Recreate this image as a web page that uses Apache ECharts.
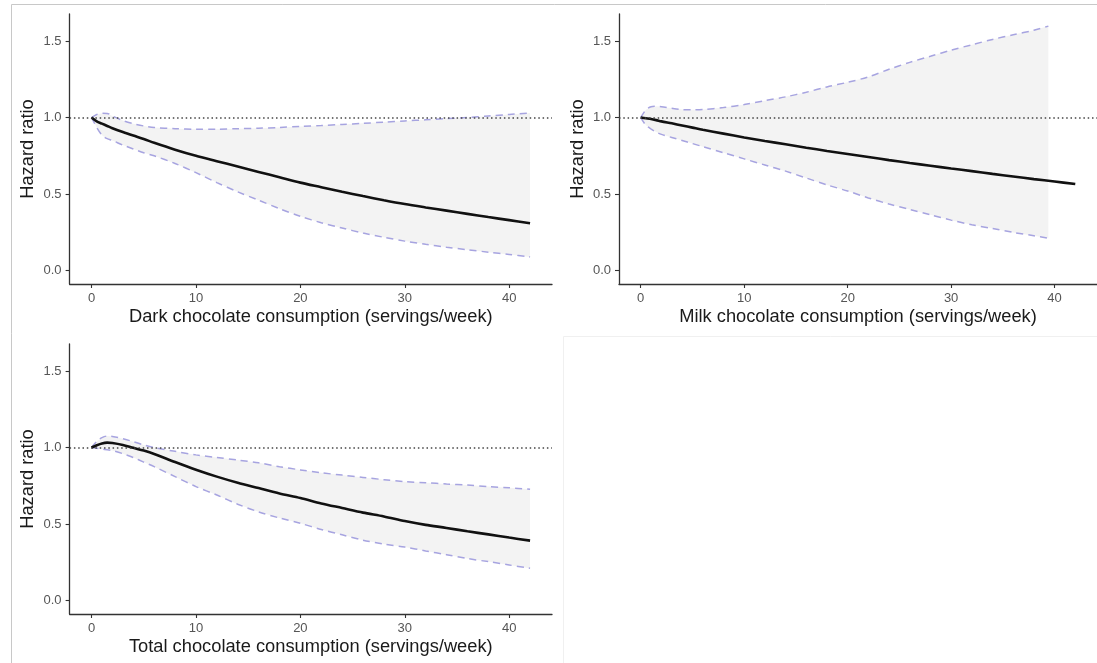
<!DOCTYPE html>
<html>
<head>
<meta charset="utf-8">
<script src="https://cdn.jsdelivr.net/npm/echarts@6/dist/echarts.min.js"></script>
<style>
  html, body { margin: 0; padding: 0; background: #fff; }
  #chart { width: 1097px; height: 663px; }
</style>
</head>
<body>
<div id="chart"></div>
<script>
// servings/week at which the curves were read
const xPts = [0, 0.5, 1, 1.5, 2, 3, 4, 5, 6, 8, 10, 12, 14, 16, 18, 20, 22, 24, 26, 28, 30, 32, 34, 36, 38, 40, 42]

// dark chocolate
const darkHR = [1.0, 0.975, 0.96, 0.945, 0.93, 0.905, 0.882, 0.86, 0.835, 0.79, 0.75, 0.715, 0.68, 0.645, 0.61, 0.575, 0.545, 0.515, 0.487, 0.46, 0.435, 0.413, 0.392, 0.371, 0.35, 0.33, 0.31]
const darkLo = [1.0, 0.935, 0.885, 0.862, 0.85, 0.82, 0.795, 0.77, 0.75, 0.7, 0.64, 0.575, 0.515, 0.46, 0.405, 0.355, 0.313, 0.278, 0.246, 0.218, 0.193, 0.172, 0.153, 0.137, 0.121, 0.106, 0.09]
const darkHi = [1.0, 1.02, 1.028, 1.027, 1.01, 0.98, 0.96, 0.945, 0.935, 0.927, 0.924, 0.924, 0.927, 0.93, 0.935, 0.942, 0.948, 0.955, 0.962, 0.97, 0.978, 0.985, 0.993, 1.0, 1.01, 1.02, 1.03]

// milk chocolate (CI stops before the curve does)
const milkHR = [1.0, 0.995, 0.99, 0.983, 0.975, 0.962, 0.948, 0.934, 0.92, 0.895, 0.87, 0.847, 0.825, 0.803, 0.782, 0.762, 0.742, 0.722, 0.703, 0.685, 0.667, 0.65, 0.632, 0.615, 0.598, 0.582, 0.566]
const milkCiX = [0, 0.5, 1, 1.5, 2, 3, 4, 5, 6, 8, 10, 12, 14, 16, 18, 20, 22, 24, 26, 28, 30, 32, 34, 36, 38, 39.4]
const milkLo = [1.0, 0.95, 0.925, 0.905, 0.89, 0.87, 0.85, 0.83, 0.81, 0.77, 0.73, 0.69, 0.65, 0.605, 0.56, 0.52, 0.475, 0.435, 0.4, 0.365, 0.33, 0.3, 0.275, 0.25, 0.228, 0.212]
const milkHi = [1.0, 1.05, 1.07, 1.073, 1.07, 1.06, 1.052, 1.05, 1.052, 1.065, 1.085, 1.11, 1.135, 1.165, 1.2, 1.23, 1.265, 1.315, 1.36, 1.4, 1.44, 1.475, 1.51, 1.54, 1.57, 1.597]

// total chocolate
const totalHR = [1.0, 1.015, 1.027, 1.032, 1.03, 1.017, 0.998, 0.98, 0.958, 0.905, 0.855, 0.81, 0.77, 0.735, 0.7, 0.67, 0.635, 0.605, 0.575, 0.55, 0.52, 0.495, 0.475, 0.453, 0.433, 0.412, 0.392]
const totalLo = [1.0, 0.995, 0.99, 0.985, 0.98, 0.96, 0.935, 0.905, 0.875, 0.81, 0.745, 0.69, 0.63, 0.58, 0.54, 0.505, 0.465, 0.43, 0.395, 0.37, 0.35, 0.325, 0.3, 0.275, 0.255, 0.233, 0.212]
const totalHi = [1.0, 1.04, 1.065, 1.075, 1.072, 1.058, 1.038, 1.017, 1.0, 0.975, 0.952, 0.935, 0.918, 0.9, 0.875, 0.854, 0.835, 0.82, 0.805, 0.79, 0.777, 0.77, 0.762, 0.755, 0.745, 0.737, 0.728]

const xTicks = [0, 10, 20, 30, 40]
const yTicks = [0, 0.5, 1.0, 1.5]
const xTitles = [
  'Dark chocolate consumption (servings/week)',
  'Milk chocolate consumption (servings/week)',
  'Total chocolate consumption (servings/week)'
]

const FONT = '"Liberation Sans", Arial, Helvetica, sans-serif'
const pair = (xs, ys) => xs.map((x, i) => [x, ys[i]])

const grids = [
  { left: 69.6, top: 14, width: 482.4, height: 270 },
  { left: 619, top: 14, width: 483.3, height: 270 },
  { left: 69.6, top: 344, width: 482.4, height: 270 }
]

const axisLine = { show: true, onZero: false, lineStyle: { color: '#333', width: 1.3 } }
const axisTick = { show: true, length: 4, lineStyle: { color: '#333', width: 1.1 } }

const xAxes = grids.map((g, i) => ({
  type: 'value',
  gridIndex: i,
  min: -2.1,
  max: 44.1,
  axisLine,
  axisTick: { ...axisTick, customValues: xTicks },
  splitLine: { show: false },
  axisLabel: { customValues: xTicks, color: '#555', fontSize: 13, fontFamily: FONT, margin: 8 },
  name: xTitles[i],
  nameLocation: 'middle',
  nameGap: 24,
  nameTextStyle: { color: '#1a1a1a', fontSize: 18.3, fontFamily: FONT }
}))

const yAxes = grids.map((g, i) => ({
  type: 'value',
  gridIndex: i,
  min: -0.087,
  max: 1.676,
  axisLine,
  axisTick: { ...axisTick, customValues: yTicks },
  splitLine: { show: false },
  axisLabel: {
    customValues: yTicks,
    color: '#555', fontSize: 13, fontFamily: FONT, margin: 8,
    formatter: v => v.toFixed(1)
  },
  name: 'Hazard ratio',
  nameLocation: 'middle',
  nameGap: 32.5,
  nameTextStyle: { color: '#1a1a1a', fontSize: 18.3, fontFamily: FONT }
}))

// ribbon: one polygon through the lower bound then back along the upper bound
function ribbonItem(params, api) {
  if (params.dataIndexInside !== 0) return null
  const n = params.dataInsideLength
  const pts = []
  for (let i = 0; i < n; i++) pts.push(api.coord([api.value(0, i), api.value(1, i)]))
  for (let i = n - 1; i >= 0; i--) pts.push(api.coord([api.value(0, i), api.value(2, i)]))
  return { type: 'polygon', shape: { points: pts }, style: { fill: '#f3f3f3' } }
}

function panel(idx, hrX, hr, ciX, lo, hi) {
  const base = { type: 'line', xAxisIndex: idx, yAxisIndex: idx, showSymbol: false, smooth: 0.3 }
  const dashed = { color: '#a7a4e0', width: 1.5, type: [7, 5] }
  return [
    {
      type: 'custom', xAxisIndex: idx, yAxisIndex: idx, z: 1, silent: true,
      renderItem: ribbonItem,
      encode: { x: 0, y: [1, 2] },
      data: ciX.map((x, i) => [x, lo[i], hi[i]])
    },
    { ...base, z: 3, data: pair(ciX, lo), lineStyle: dashed },
    { ...base, z: 3, data: pair(ciX, hi), lineStyle: dashed },
    {
      ...base, z: 4,
      data: pair(hrX, hr),
      lineStyle: { color: '#111', width: 2.6 },
      markLine: {
        silent: true, symbol: 'none', label: { show: false },
        lineStyle: { color: '#444', width: 1.6, type: [1.5, 2.8] },
        data: [{ yAxis: 1 }]
      }
    }
  ]
}

const chart = echarts.init(document.getElementById('chart'))
chart.setOption({
  animation: false,
  backgroundColor: '#fff',
  grid: grids,
  xAxis: xAxes,
  yAxis: yAxes,
  graphic: [
    { type: 'line', shape: { x1: 11.5, y1: 4.5, x2: 1097, y2: 4.5 }, style: { stroke: '#c8c8c8', lineWidth: 1 } },
    { type: 'line', shape: { x1: 11.5, y1: 4.5, x2: 11.5, y2: 663 }, style: { stroke: '#c8c8c8', lineWidth: 1 } },
    { type: 'line', shape: { x1: 563.5, y1: 336.5, x2: 1097, y2: 336.5 }, style: { stroke: '#f0f0f0', lineWidth: 1 } },
    { type: 'line', shape: { x1: 563.5, y1: 336.5, x2: 563.5, y2: 663 }, style: { stroke: '#f0f0f0', lineWidth: 1 } }
  ],
  series: [
    ...panel(0, xPts, darkHR, xPts, darkLo, darkHi),
    ...panel(1, xPts, milkHR, milkCiX, milkLo, milkHi),
    ...panel(2, xPts, totalHR, xPts, totalLo, totalHi)
  ]
})

window.addEventListener('resize', () => {
  if (chart) chart.resize()
})
</script>
</body>
</html>
